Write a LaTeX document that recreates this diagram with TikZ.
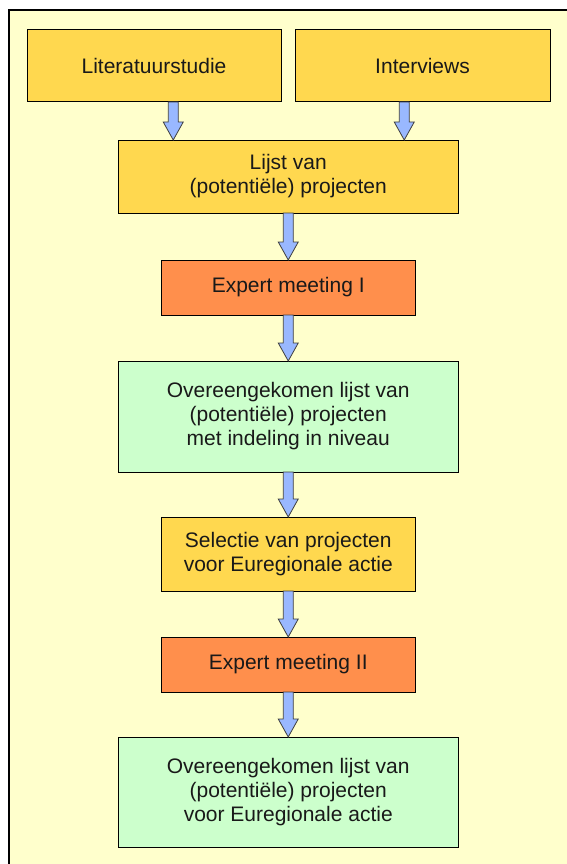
\documentclass[tikz,border=0pt]{standalone}
\usepackage{fontspec}
\setmainfont{Liberation Sans}
\usepackage{xcolor}
\usepackage{tikz}
\usetikzlibrary{positioning,calc}

\definecolor{achtergrond}{HTML}{FFFFCC}
\definecolor{geel}{HTML}{FFD84F}
\definecolor{oranje}{HTML}{FF8F4C}
\definecolor{groen}{HTML}{CCFFCC}
\definecolor{pijlblauw}{HTML}{99B8FF}

\newcommand{\pijl}[2]{%
  \draw[pijlvorm] let \p1=(#1), \p2=(#2) in
    (\x1-5pt,\y1) -- (\x1+5pt,\y1) -- (\x1+5pt,\y2+18pt) -- (\x1+10pt,\y2+18pt)
    -- (\x1,\y2) -- (\x1-10pt,\y2+18pt) -- (\x1-5pt,\y2+18pt) -- cycle;}

\begin{document}
\begin{tikzpicture}[every node/.style={align=center, font=\fontsize{21pt}{24pt}\selectfont, text=black!90},
box/.style={draw, line width=1pt, inner sep=0pt, outer sep=0pt, minimum width=254pt},
breed/.style={box, minimum width=340pt},
pijlvorm/.style={fill=pijlblauw, draw=black!75, line width=0.8pt, line join=miter}]
\useasboundingbox (0,0) rectangle (566pt,-864pt);
\draw[fill=achtergrond, line width=2pt] (9pt,-10pt) rectangle (590pt,-890pt);
\node[box, fill=geel, minimum height=72pt] (lit) at (154pt,-66pt) {Literatuurstudie};
\node[box, fill=geel, minimum height=72pt, minimum width=255pt, right=14pt of lit] (int) {Interviews};
\coordinate (mid) at ($(lit.south)!0.5!(int.south)$);
\node[breed, fill=geel, minimum height=73pt, below=38pt of mid] (lijst) {Lijst van\\(potentiële) projecten};
\node[box, fill=oranje, minimum height=55pt, below=47pt of lijst] (exp1) {Expert meeting I};
\node[breed, fill=groen, minimum height=111pt, below=46pt of exp1] (over) {Overeengekomen lijst van\\(potentiële) projecten\\met indeling in niveau};
\node[box, fill=geel, minimum height=74pt, below=45pt of over] (sel) {Selectie van projecten\\voor Euregionale actie};
\node[box, fill=oranje, minimum height=55pt, below=46pt of sel] (exp2) {Expert meeting II};
\node[breed, fill=groen, minimum height=110pt, below=45pt of exp2] (eind) {Overeengekomen lijst van\\(potentiële) projecten\\voor Euregionale actie};
\coordinate (a1) at ([xshift=55pt]lijst.north west);
\coordinate (a2) at ([xshift=-54pt]lijst.north east);
\pijl{a1 |- lit.south}{a1}
\pijl{a2 |- int.south}{a2}
\pijl{lijst.south}{exp1.north}
\pijl{exp1.south}{over.north}
\pijl{over.south}{sel.north}
\pijl{sel.south}{exp2.north}
\pijl{exp2.south}{eind.north}
\end{tikzpicture}
\end{document}
